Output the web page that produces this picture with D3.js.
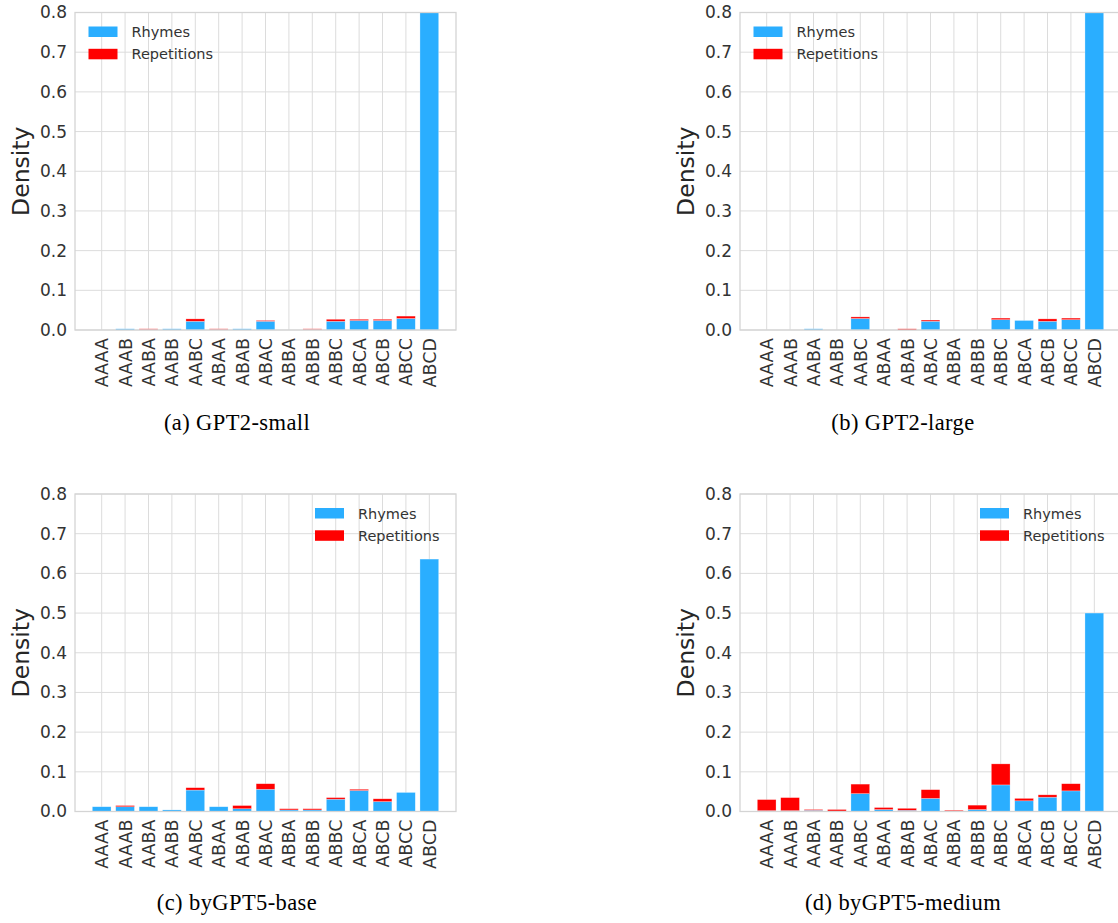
<!DOCTYPE html>
<html>
<head>
<meta charset="utf-8">
<script src="https://cdn.jsdelivr.net/npm/d3@7"></script>
<style>
  html, body { margin: 0; padding: 0; background: #ffffff; }
  svg { display: block; }
</style>
</head>
<body>
<svg id="chart" width="1118" height="923"></svg>
<script>
// ---------- data ----------
const categories = ["AAAA","AAAB","AABA","AABB","AABC","ABAA","ABAB","ABAC","ABBA","ABBB","ABBC","ABCA","ABCB","ABCC","ABCD"];
const yTicks = [0.0, 0.1, 0.2, 0.3, 0.4, 0.5, 0.6, 0.7, 0.8];
const seriesNames = ["Rhymes", "Repetitions"];
const captions = ["(a) GPT2-small", "(b) GPT2-large", "(c) byGPT5-base", "(d) byGPT5-medium"];

const gpt2SmallRhymes = [0, 0.003, 0.001, 0.003, 0.022, 0.001, 0.003, 0.022, 0, 0.001, 0.022, 0.024, 0.024, 0.029, 0.82];
const gpt2SmallReps   = [0, 0.000, 0.002, 0.000, 0.006, 0.002, 0.000, 0.002, 0, 0.002, 0.005, 0.003, 0.003, 0.006, 0.0];

const gpt2LargeRhymes = [0, 0, 0.003, 0, 0.029, 0, 0.000, 0.022, 0, 0, 0.026, 0.024, 0.022, 0.026, 0.83];
const gpt2LargeReps   = [0, 0, 0.000, 0, 0.004, 0, 0.003, 0.003, 0, 0, 0.004, 0.000, 0.006, 0.004, 0.0];

const byGPT5BaseRhymes = [0.012, 0.012, 0.012, 0.004, 0.054, 0.012, 0.007, 0.056, 0.004, 0.004, 0.031, 0.053, 0.025, 0.048, 0.636];
const byGPT5BaseReps   = [0.000, 0.003, 0.000, 0.000, 0.006, 0.000, 0.008, 0.014, 0.003, 0.003, 0.004, 0.003, 0.007, 0.000, 0.0];

const byGPT5MediumRhymes = [0.002, 0.002, 0.003, 0.001, 0.045, 0.005, 0.003, 0.033, 0.000, 0.005, 0.067, 0.027, 0.036, 0.052, 0.50];
const byGPT5MediumReps   = [0.028, 0.033, 0.002, 0.004, 0.024, 0.005, 0.005, 0.022, 0.003, 0.011, 0.053, 0.006, 0.006, 0.018, 0.0];

// ---------- style ----------
const blue = "#2aaeff";
const red = "#ff0000";
const gridColor = "#dcdcdc";
const textColor = "#333333";

const panels = [
  { rh: gpt2SmallRhymes,    rp: gpt2SmallReps,    left: 75,  top: 12.5, bottom: 330,  legend: "left",  cap: captions[0], capX: 237, capY: 430 },
  { rh: gpt2LargeRhymes,    rp: gpt2LargeReps,    left: 740, top: 12.5, bottom: 330,  legend: "left",  cap: captions[1], capX: 903, capY: 430 },
  { rh: byGPT5BaseRhymes,   rp: byGPT5BaseReps,   left: 75,  top: 494,  bottom: 811.5, legend: "right", cap: captions[2], capX: 237, capY: 910 },
  { rh: byGPT5MediumRhymes, rp: byGPT5MediumReps, left: 740, top: 494,  bottom: 811.5, legend: "right", cap: captions[3], capX: 903, capY: 910 }
];
const axW = 381;

const svg = d3.select("#chart");

panels.forEach((p, pi) => {
  const unit = axW / 16.28;
  const xc = d3.scaleLinear().domain([-1.14, 15.14]).range([p.left, p.left + axW]);
  const bw = 0.8 * unit;

  const y = d3.scaleLinear().domain([0, 0.8]).range([p.bottom, p.top]);
  const g = svg.append("g");

  const clipId = "clip" + pi;
  svg.append("clipPath").attr("id", clipId)
    .append("rect").attr("x", p.left).attr("y", p.top)
    .attr("width", axW).attr("height", p.bottom - p.top);

  // horizontal grid
  g.append("g").selectAll("line").data(yTicks).join("line")
    .attr("x1", p.left).attr("x2", p.left + axW)
    .attr("y1", d => y(d)).attr("y2", d => y(d))
    .attr("stroke", gridColor).attr("stroke-width", 1);
  // vertical grid
  g.append("g").selectAll("line").data(categories).join("line")
    .attr("x1", (d, i) => xc(i)).attr("x2", (d, i) => xc(i))
    .attr("y1", p.top).attr("y2", p.bottom)
    .attr("stroke", gridColor).attr("stroke-width", 1);

  // bars
  const bars = g.append("g").attr("clip-path", `url(#${clipId})`);
  bars.selectAll("rect.rh").data(p.rh).join("rect").attr("class", "rh")
    .attr("x", (d, i) => xc(i) - bw / 2).attr("width", bw)
    .attr("y", d => y(d)).attr("height", d => y(0) - y(d))
    .attr("fill", blue).attr("stroke", "#ffffff").attr("stroke-opacity", 0.45).attr("stroke-width", 0.6);
  bars.selectAll("rect.rp").data(p.rp).join("rect").attr("class", "rp")
    .attr("x", (d, i) => xc(i) - bw / 2).attr("width", bw)
    .attr("y", (d, i) => y(p.rh[i] + d)).attr("height", (d, i) => y(p.rh[i]) - y(p.rh[i] + d))
    .attr("fill", red).attr("stroke", "#ffffff").attr("stroke-opacity", 0.45).attr("stroke-width", 0.6);

  // frame (spines)
  g.append("rect").attr("x", p.left).attr("y", p.top)
    .attr("width", axW).attr("height", p.bottom - p.top)
    .attr("fill", "none").attr("stroke", "#d4d4d4").attr("stroke-width", 1.3);

  // y axis labels
  const yAxis = d3.axisLeft(y).tickValues(yTicks).tickFormat(d3.format(".1f")).tickSize(0).tickPadding(8);
  const ya = g.append("g").attr("transform", `translate(${p.left},0)`).call(yAxis);
  ya.select(".domain").remove();
  ya.selectAll("text").attr("font-family", "DejaVu Sans").attr("font-size", 17).attr("fill", textColor);

  // x axis labels
  const xa = g.append("g");
  xa.selectAll("text").data(categories).join("text")
    .attr("transform", (d, i) => `translate(${xc(i) + 6.5},${p.bottom + 8}) rotate(-90)`)
    .attr("text-anchor", "end")
    .attr("font-family", "DejaVu Sans").attr("font-size", 17.5).attr("fill", textColor)
    .text(d => d);

  // y title
  g.append("text")
    .attr("transform", `translate(${p.left - 46},${(p.top + p.bottom) / 2}) rotate(-90)`)
    .attr("text-anchor", "middle")
    .attr("font-family", "DejaVu Sans").attr("font-size", 23.5).attr("fill", "#262626")
    .text("Density");

  // legend
  const lx = p.legend === "left" ? p.left + 13.5 : p.left + 240;
  const ly = p.top + 14;
  const colors = [blue, red];
  const lg = g.append("g");
  seriesNames.forEach((s, k) => {
    lg.append("rect").attr("x", lx).attr("y", ly + k * 22.3)
      .attr("width", 29).attr("height", 10.5).attr("fill", colors[k]);
    lg.append("text").attr("x", lx + 43).attr("y", ly + k * 22.3 + 10.5)
      .attr("font-family", "DejaVu Sans").attr("font-size", 14.5).attr("fill", textColor)
      .text(s);
  });

  // caption
  g.append("text").attr("x", p.capX).attr("y", p.capY)
    .attr("text-anchor", "middle")
    .attr("font-family", "Liberation Serif").attr("font-size", 22.5).attr("letter-spacing", 0.4)
    .attr("fill", "#000").text(p.cap);
});
</script>
</body>
</html>
